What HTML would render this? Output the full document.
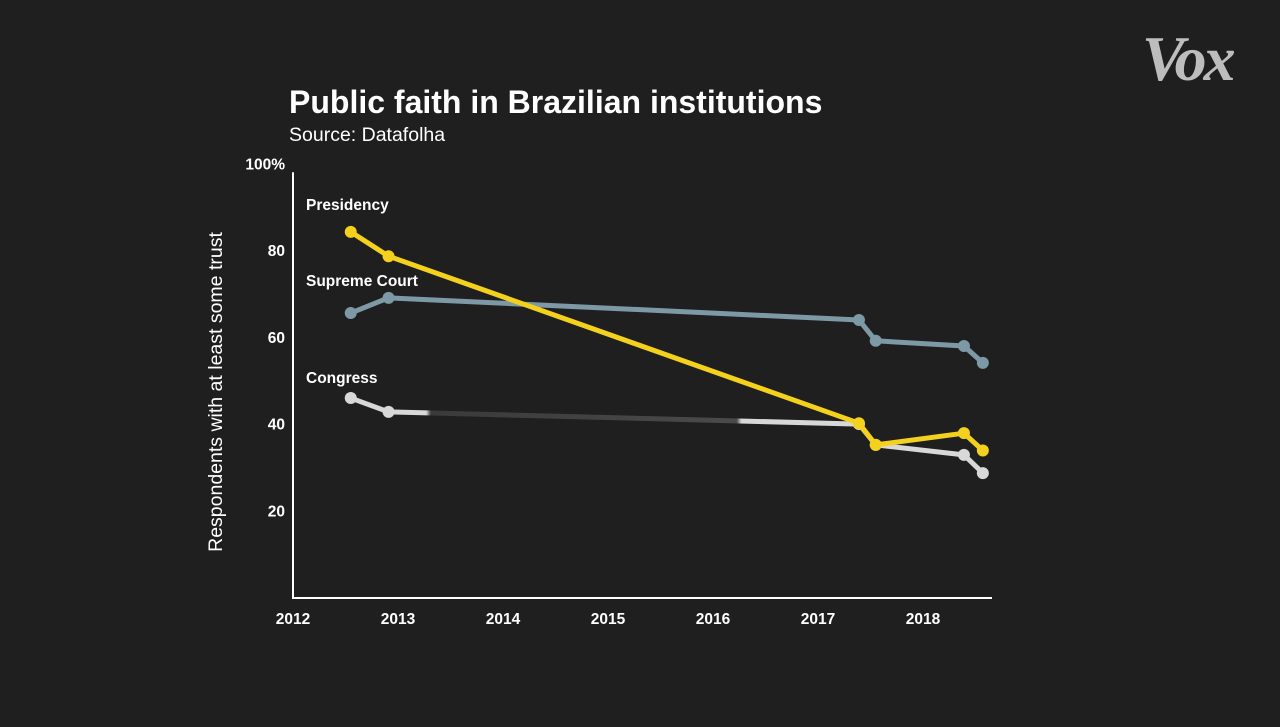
<!DOCTYPE html>
<html><head><meta charset="utf-8"><style>
html,body{margin:0;padding:0;background:#1e1e1e;width:1280px;height:727px;overflow:hidden}
svg{display:block}
text{font-family:"Liberation Sans",sans-serif}
</style></head><body>
<svg width="1280" height="727">
<rect width="1280" height="727" fill="#1f1f1f"/>
<text x="1142" y="80" style="font-family:'Liberation Serif',serif" font-size="64" font-weight="bold" font-style="italic" fill="#bdbdbd" letter-spacing="-3">Vox</text>
<text x="289" y="113" font-size="32" font-weight="bold" fill="#fff" letter-spacing="0">Public faith in Brazilian institutions</text>
<text x="289" y="141" font-size="19.5" fill="#fff">Source: Datafolha</text>
<text transform="translate(222,392) rotate(-90)" text-anchor="middle" font-size="19.5" fill="#fff">Respondents with at least some trust</text>
<g id="axes"></g>
<g id="marks"></g>
</svg>
<script>
const xTicks=[2012,2013,2014,2015,2016,2017,2018];
const yTicks=[20,40,60,80,100];
const seriesNames=["Supreme Court","Congress","Presidency"];
const dates=[2012.55,2012.91,2017.39,2017.55,2018.39,2018.57];
const supremeCourt=[65.7,69.2,64.1,59.3,58.1,54.2];
const congress=[46.1,42.9,40.1,35.3,33.0,28.8];
const presidency=[84.4,78.8,40.3,35.3,38.0,34.0];
const NS="http://www.w3.org/2000/svg";
const X=v=>293+(v-2012)*105;
const Y=v=>598-v*4.3375;
function mk(tag,attrs,parent){const e=document.createElementNS(NS,tag);for(const k in attrs)e.setAttribute(k,attrs[k]);parent.appendChild(e);return e;}
const ax=document.getElementById('axes'),mg=document.getElementById('marks');
let a=mk('line',{x1:293,y1:Y(100)+8,x2:293,y2:598,stroke:'#fff','stroke-width':2},ax);


a=mk('line',{x1:292,y1:598,x2:992,y2:598,stroke:'#fff','stroke-width':2},ax);


yTicks.forEach(t=>{const e=mk('text',{x:285,y:Y(t)+5,'text-anchor':'end','font-size':15.5,'font-weight':'bold',fill:'#fff'},ax);e.textContent=t===100?'100%':t;

});
xTicks.forEach(t=>{const e=mk('text',{x:X(t),y:624,'text-anchor':'middle','font-size':15.5,'font-weight':'bold',fill:'#fff'},ax);e.textContent=t;

});
const defs=mk('defs',{},mg);
const g=mk('linearGradient',{id:'cg',gradientUnits:'userSpaceOnUse',x1:X(dates[1]),y1:0,x2:X(dates[2]),y2:0},defs);
[[0,'#d8d8d8'],[0.08,'#d8d8d8'],[0.09,'#3a3a3a'],[0.74,'#4a4a4a'],[0.75,'#d8d8d8'],[1,'#d8d8d8']].forEach(s=>mk('stop',{offset:s[0],'stop-color':s[1]},g));
const series=[[supremeCourt,'#7e99a6','supreme-court'],[congress,'#d8d8d8','congress'],[presidency,'#f3d11c','presidency']];
series.forEach(([vals,col,name])=>{
 const pts=vals.map((v,i)=>X(dates[i])+','+Y(v)).join(' ');
 const grp=mk('g',{},mg);
 
 
 if(name==='congress'){
  const p1=mk('polyline',{points:vals.slice(0,2).map((v,i)=>X(dates[i])+','+Y(v)).join(' '),fill:'none',stroke:col,'stroke-width':5,'stroke-linejoin':'round'},grp);
  const p2=mk('line',{x1:X(dates[1]),y1:Y(vals[1]),x2:X(dates[2]),y2:Y(vals[2]),stroke:'url(#cg)','stroke-width':5},grp);
  const p3=mk('polyline',{points:vals.slice(2).map((v,i)=>X(dates[i+2])+','+Y(v)).join(' '),fill:'none',stroke:col,'stroke-width':5,'stroke-linejoin':'round'},grp);
  [p1,p2,p3].forEach(p=>{});
 } else {
  const pl=mk('polyline',{points:pts,fill:'none',stroke:col,'stroke-width':5,'stroke-linejoin':'round'},grp);
  
  
 }
 vals.forEach((v,i)=>{const c=mk('circle',{cx:X(dates[i]),cy:Y(v),r:6,fill:col},grp);
 
 });
});
[["Presidency",306,210],["Supreme Court",306,286],["Congress",306,383]].forEach(([t,x,y])=>{
 const e=mk('text',{x:x,y:y,'font-size':15.5,'font-weight':'bold',fill:'#fff'},mg);e.textContent=t;
 
 });
</script>
</body></html>
